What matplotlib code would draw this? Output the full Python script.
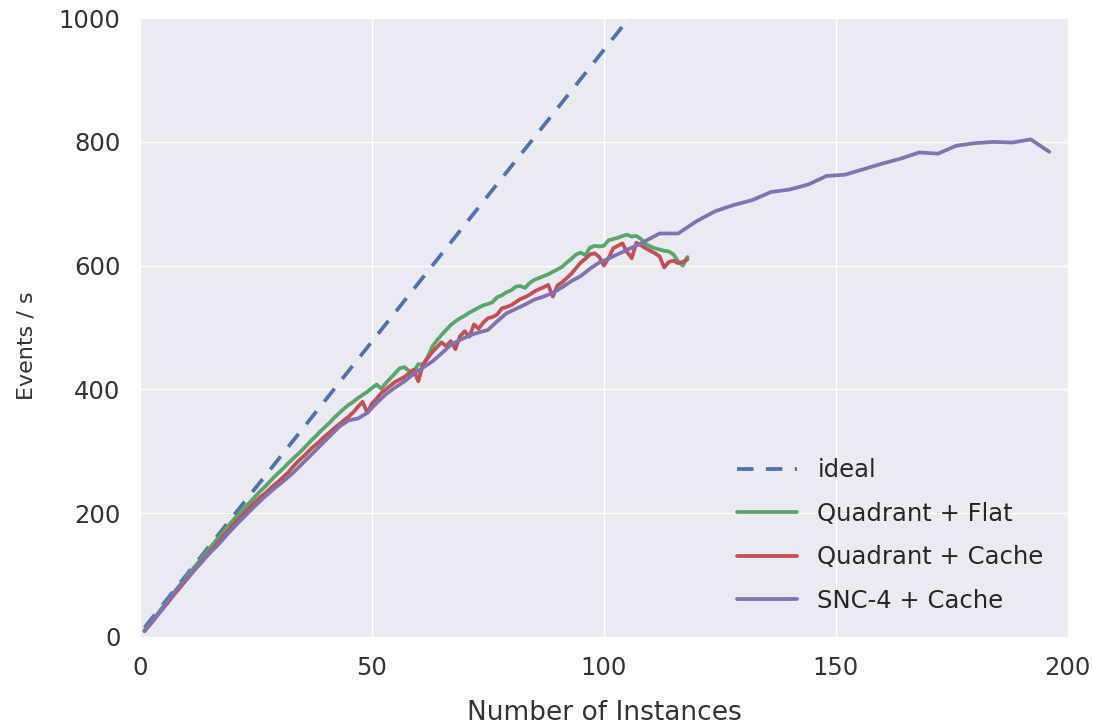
from matplotlib import pyplot as plt

# Quadrant modes were measured at every instance count, SNC-4 more sparsely
quad_x = list(range(1, 119))

flat_y = [10, 19, 29, 39, 49, 58, 68, 78, 87, 97,
          106, 115, 124, 134, 143, 152, 161, 170, 179, 188,
          196, 204, 212, 220, 228, 236, 243, 251, 259, 266,
          273, 281, 288, 295, 302, 310, 318, 325, 333, 340,
          347, 355, 362, 369, 375, 380, 386, 391, 396, 402,
          408, 401, 410, 418, 426, 434, 436, 430, 428, 441,
          440, 452, 469, 479, 488, 496, 504, 510, 515, 519,
          524, 528, 532, 536, 538, 541, 549, 552, 557, 560,
          566, 567, 564, 572, 577, 580, 583, 586, 590, 594,
          598, 605, 611, 618, 621, 617, 629, 632, 631, 632,
          641, 643, 645, 648, 650, 647, 648, 643, 635, 631,
          628, 626, 624, 623, 618, 607, 600, 614]

cache_y = [9, 18, 27, 37, 46, 55, 65, 74, 83, 92,
           101, 110, 119, 128, 137, 145, 154, 163, 171, 180,
           188, 196, 204, 212, 219, 226, 232, 239, 246, 252,
           259, 266, 275, 283, 290, 297, 305, 311, 318, 325,
           331, 338, 344, 350, 356, 363, 372, 380, 362, 377,
           385, 394, 400, 406, 412, 416, 420, 426, 432, 413,
           440, 450, 460, 468, 476, 470, 478, 465, 486, 494,
           485, 505, 498, 508, 515, 517, 521, 531, 533, 536,
           541, 546, 549, 553, 558, 562, 565, 569, 550, 568,
           573, 580, 587, 596, 605, 611, 618, 620, 614, 600,
           612, 628, 632, 636, 622, 612, 637, 633, 628, 624,
           620, 615, 597, 606, 608, 604, 606, 610]

snc_x = list(range(1, 101, 2)) + list(range(100, 197, 4))
snc_y = [10, 28, 47, 68, 86, 103, 118, 135, 150, 167,
         183, 198, 213, 227, 240, 252, 265, 280, 295, 310,
         325, 340, 350, 353, 362, 378, 392, 403, 413, 425,
         435, 445, 458, 472, 480, 487, 492, 496, 510, 523,
         530, 537, 545, 550, 556, 565, 575, 583, 595, 605,
         608, 622, 636, 652, 652, 672, 688, 698, 706, 719,
         723, 731, 745, 747, 756, 765, 773, 783, 781, 794,
         798, 800, 799, 804, 784]

ideal_x = [1, 200]
ideal_y = [15, 1892]

plt.style.use('seaborn-v0_8-darkgrid')
plt.rcParams['font.family'] = ['DejaVu Sans']

fig = plt.figure(figsize=(10.93, 7.27), dpi=100)
ax = fig.add_axes([0.128, 0.124, 0.849, 0.851])

ax.plot(ideal_x, ideal_y, '--', color='#4C72B0', lw=2.7, dashes=(4.4, 3.3), label='ideal')
ax.plot(quad_x, flat_y, color='#55A868', lw=2.7, label='Quadrant + Flat')
ax.plot(quad_x, cache_y, color='#C44E52', lw=2.7, label='Quadrant + Cache')
ax.plot(snc_x, snc_y, color='#8172B2', lw=2.7, label='SNC-4 + Cache')

ax.set_xlim(0, 200)
ax.set_ylim(0, 1000)
ax.set_xticks([0, 50, 100, 150, 200])
ax.set_yticks([0, 200, 400, 600, 800, 1000])
ax.tick_params(labelsize=17.5, colors='#333333', pad=14)
ax.set_xlabel('Number of Instances', fontsize=19, color='#333333', labelpad=14)
ax.set_ylabel('Events / s', fontsize=16, color='#333333')
ax.yaxis.set_label_coords(-0.111, 0.47)

ax.legend(loc='lower right', fontsize=17.5, frameon=False, handlelength=2.47,
          handletextpad=0.82, borderaxespad=0.6, labelspacing=0.8)

fig.savefig('out.png')
